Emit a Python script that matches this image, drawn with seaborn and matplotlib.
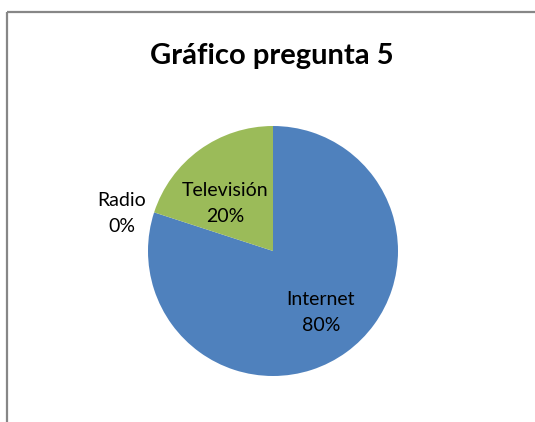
import numpy as np
import matplotlib
matplotlib.use("Agg")
import matplotlib.pyplot as plt
import seaborn as sns
from matplotlib.lines import Line2D

sns.set_theme(style="white")
plt.rcParams["font.family"] = ["Lato", "DejaVu Sans"]

# data
categories = ["Internet", "Radio", "Televisión"]
shares = [80, 0, 20]
colors = ["#4F81BD", "#C0504D", "#9BBB59"]
title = "Gráfico pregunta 5"

# label placement: distance from centre (fraction of radius) and angle nudge (deg)
label_dist = [0.62, 1.25, 0.54]
label_nudge = [2, 4, 9]

W, H = 535, 422
fig = plt.figure(figsize=(W / 100, H / 100), dpi=100)
fig.patch.set_facecolor("white")

# chart frame: only top and left edges are inside the crop
top_y = 1 - 11.5 / H
left_x = 6.5 / W
fig.lines.append(Line2D([left_x, 1.02], [top_y, top_y], transform=fig.transFigure,
                        color="#878787", linewidth=1.6, solid_capstyle="butt"))
fig.lines.append(Line2D([left_x, left_x], [-0.02, top_y], transform=fig.transFigure,
                        color="#878787", linewidth=1.6, solid_capstyle="butt"))

fig.text(272 / W, 1 - 56 / H, title, ha="center", va="center",
         fontsize=21, fontweight="bold", color="black")

r_px = 125
cx, cy = 273, 251
ax = fig.add_axes([(cx - r_px) / W, (H - cy - r_px) / H, 2 * r_px / W, 2 * r_px / H])
wedges, _ = ax.pie(shares, colors=colors, startangle=90, counterclock=False,
                   radius=1, wedgeprops=dict(linewidth=0))
ax.set_xlim(-1, 1)
ax.set_ylim(-1, 1)
ax.set_aspect("equal")
ax.axis("off")

total = sum(shares)
for w, name, v, d, n in zip(wedges, categories, shares, label_dist, label_nudge):
    mid = np.deg2rad((w.theta1 + w.theta2) / 2 + n)
    ax.text(d * np.cos(mid), d * np.sin(mid), f"{name}\n{v / total:.0%}",
            ha="center", va="center", fontsize=14, color="black",
            linespacing=1.65, clip_on=False)

fig.savefig("out.png", dpi=100)
